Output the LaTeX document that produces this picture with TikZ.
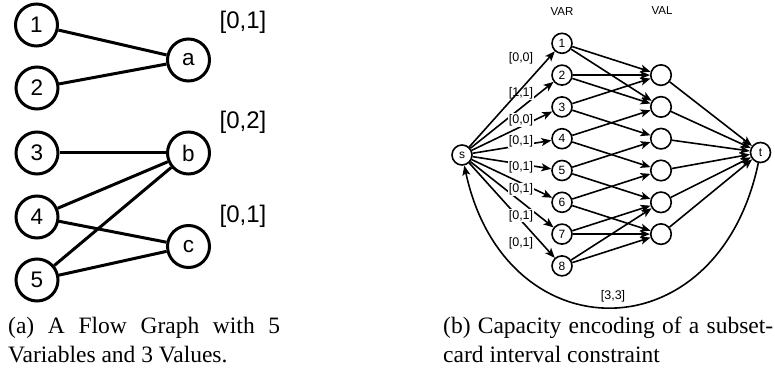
\documentclass[tikz,border=0pt]{standalone}
\usepackage{fontspec}
\setmainfont{Liberation Serif}
\newfontfamily\lsans{Liberation Sans}
\usetikzlibrary{arrows.meta}
\begin{document}
\begin{tikzpicture}[x=1pt,y=-1pt,
  bignode/.style={circle,draw,line width=3pt,minimum size=42pt,inner sep=0pt,font=\lsans\fontsize{22.5}{26}\selectfont},
  bigedge/.style={line width=3pt},
  biglabel/.style={font=\lsans\fontsize{24}{28}\selectfont,inner sep=0pt},
  smallnode/.style={circle,draw,line width=1.6pt,minimum size=20pt,inner sep=0pt,font=\lsans\fontsize{12}{14}\selectfont},
  valnode/.style={smallnode,minimum size=20.5pt},
  flow/.style={line width=1.6pt,-{Stealth[length=10pt,width=8pt,inset=2.5pt]}},
  caplabel/.style={font=\lsans\fontsize{12.5}{14}\selectfont,fill=white,inner sep=0.8pt},
  headtext/.style={font=\lsans\fontsize{11.5}{13}\selectfont,inner sep=0pt},
  captext/.style={anchor=base west,inner sep=0pt,font=\fontsize{23.5}{29}\selectfont}
]
\useasboundingbox (0,0) rectangle (775,371);

% ---------- (a) ----------
\node[bignode] (n1) at (36.5,25) {1};
\node[bignode] (n2) at (37,88) {2};
\node[bignode] (n3) at (37,153) {3};
\node[bignode] (n4) at (37,217) {4};
\node[bignode] (n5) at (37,280) {5};
\node[bignode] (va) at (188.5,60) {a};
\node[bignode] (vb) at (188.5,153) {b};
\node[bignode] (vc) at (188.5,246.5) {c};
\draw[bigedge] (n1) -- (va);
\draw[bigedge] (n2) -- (va);
\draw[bigedge] (n3) -- (vb);
\draw[bigedge] (n4) -- (vb);
\draw[bigedge] (n4) -- (vc);
\draw[bigedge] (n5) -- (vb);
\draw[bigedge] (n5) -- (vc);
\node[biglabel] (la) at (243,22.5) {[0,1]};
\node[biglabel] (lb) at (243,122.5) {[0,2]};
\node[biglabel] (lc) at (243,216) {[0,1]};

% ---------- (b) ----------
\node[headtext] (hvar) at (562,12) {VAR};
\node[headtext] (hval) at (662,11) {VAL};
\node[smallnode] (s) at (462,155) {s};
\node[smallnode] (t) at (760.5,152.5) {t};
\foreach \k in {1,...,8} {
  \node[smallnode] (x\k) at (562,{43.3+31.8*(\k-1)}) {\k};
}
\foreach \j in {1,...,6} {
  \node[valnode] (v\j) at (661,{75.1+31.8*(\j-1)}) {};
}
% s -> VAR
\foreach \k in {2,...,8} { \draw[flow] (s) -- (x\k); }
% VAR -> VAL
\draw[flow] (x1) -- (v1);
\draw[flow] (x1) -- (v2);
\draw[flow] (x2) -- (v1);
\draw[flow] (x2) -- (v2);
\draw[flow] (x3) -- (v1);
\draw[flow] (x3) -- (v3);
\draw[flow] (x4) -- (v2);
\draw[flow] (x4) -- (v4);
\draw[flow] (x5) -- (v3);
\draw[flow] (x5) -- (v5);
\draw[flow] (x6) -- (v4);
\draw[flow] (x6) -- (v6);
\draw[flow] (x7) -- (v5);
\draw[flow] (x7) -- (v6);
\draw[flow] (x8) -- (v5);
\draw[flow] (x8) -- (v6);
% VAL -> t
\foreach \j in {1,...,6} { \draw[flow] (v\j) -- (t); }
% return arc
\draw[flow] (t) .. controls (718,355) and (505,355) .. (s);
% capacity labels
\node[caplabel] (c2) at (521,93.3) {[1,1]};
\node[caplabel] (c3) at (521,120) {[0,0]};
\node[caplabel] (c4) at (521,141.7) {[0,1]};
\node[caplabel] (c5) at (521,167) {[0,1]};
\node[caplabel] (c6) at (521,189.2) {[0,1]};
\node[caplabel] (c7) at (521,215.8) {[0,1]};
\node[caplabel] (c8) at (521,243) {[0,1]};
\draw[flow] (s) -- (x1);
\node[caplabel] (c1) at (521,58.3) {[0,0]};
\node[caplabel] (c9) at (613,296) {[3,3]};

% ---------- captions ----------
\node[captext] (capa1) at (8,333) {\makebox[272pt][s]{(a) A Flow Graph with 5}};
\node[captext] (capa2) at (8,362) {Variables and 3 Values.};
\node[captext] (capb1) at (443,333) {\makebox[330pt][s]{(b) Capacity encoding of a subset-}};
\node[captext] (capb2) at (443,362) {card interval constraint};
\end{tikzpicture}
\end{document}
